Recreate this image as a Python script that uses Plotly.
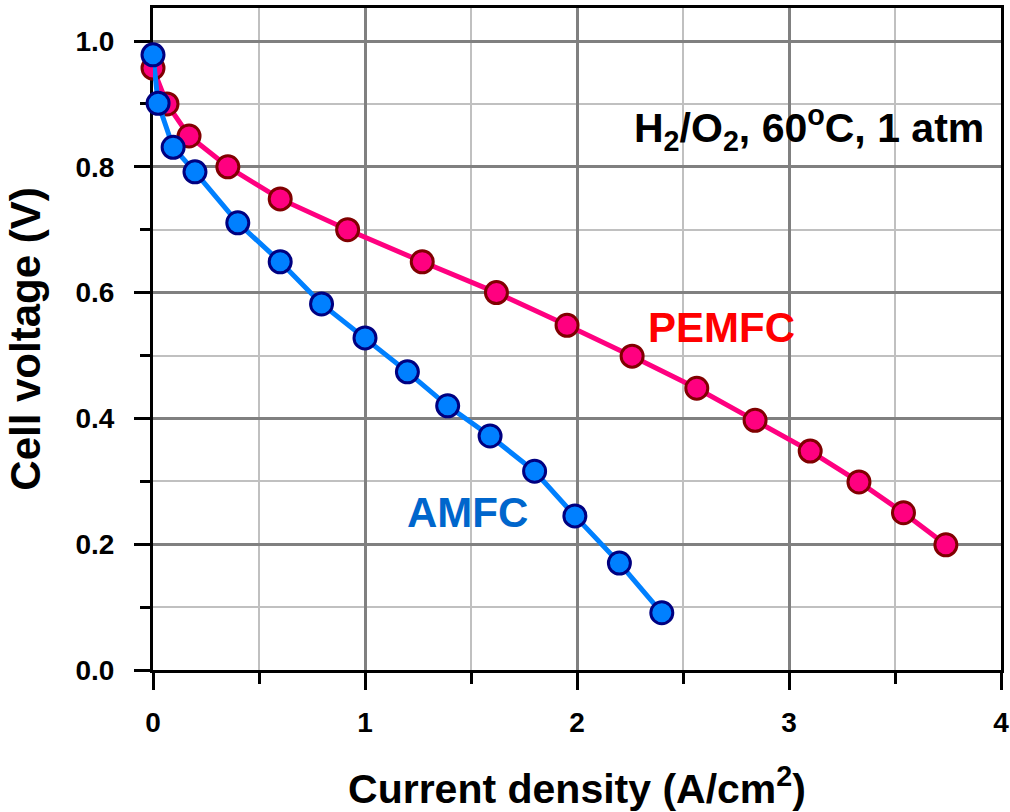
import plotly.graph_objects as go

amfc_x = [0.0, 0.024, 0.095, 0.198, 0.40, 0.60, 0.795, 1.0, 1.2, 1.39, 1.59, 1.8, 1.99, 2.2, 2.4]
amfc_y = [0.978, 0.901, 0.831, 0.792, 0.711, 0.649, 0.582, 0.528, 0.474, 0.42, 0.372, 0.316, 0.245, 0.17, 0.091]

pem_x = [0.0, 0.066, 0.17, 0.353, 0.60, 0.918, 1.27, 1.62, 1.953, 2.26, 2.565, 2.84, 3.10, 3.33, 3.54, 3.74]
pem_y = [0.957, 0.90, 0.849, 0.80, 0.749, 0.70, 0.649, 0.60, 0.548, 0.499, 0.448, 0.397, 0.348, 0.299, 0.25, 0.199]

FONT = "Liberation Sans, Arial, sans-serif"

fig = go.Figure()
fig.add_trace(go.Scatter(
    x=pem_x, y=pem_y, mode="lines+markers", name="PEMFC",
    line=dict(color="#ff0080", width=5),
    marker=dict(size=22, color="#ff0080", line=dict(color="#800000", width=3)),
    cliponaxis=False, showlegend=False))
fig.add_trace(go.Scatter(
    x=amfc_x, y=amfc_y, mode="lines+markers", name="AMFC",
    line=dict(color="#0080ff", width=5),
    marker=dict(size=22, color="#0080ff", line=dict(color="#000080", width=3)),
    cliponaxis=False, showlegend=False))

axis_common = dict(
    showline=True, linecolor="black", linewidth=3, mirror=True,
    ticks="outside", tickcolor="black", tickwidth=3,
    showgrid=True, gridcolor="#808080", gridwidth=3,
    zeroline=False, layer="below traces", automargin=False,
    ticklabeloverflow="allow",
    tickfont=dict(family=FONT, size=28, color="black", weight="bold"),
)

fig.update_xaxes(
    range=[0, 4], tickvals=[0, 1, 2, 3, 4], ticktext=["0", "1", "2", "3", "4"], ticklen=17,
    ticklabelstandoff=8,
    minor=dict(dtick=0.5, tick0=0, ticks="outside", ticklen=11, tickwidth=3, tickcolor="black",
               showgrid=True, gridcolor="#c0c0c0", gridwidth=2),
    title=dict(text="Current density (A/cm<sup>2</sup>)", standoff=40,
               font=dict(family=FONT, size=41, color="black", weight="bold")),
    **axis_common)
fig.update_yaxes(
    range=[0, 1.0525], tickvals=[0, 0.2, 0.4, 0.6, 0.8, 1.0],
    ticktext=["0.0", "0.2", "0.4", "0.6", "0.8", "1.0"], ticklen=16,
    ticklabelstandoff=14,
    minor=dict(dtick=0.1, tick0=0, ticks="outside", ticklen=10, tickwidth=3, tickcolor="black",
               showgrid=True, gridcolor="#c0c0c0", gridwidth=2),
    title=dict(text="Cell voltage (V)", standoff=22,
               font=dict(family=FONT, size=42, color="black", weight="bold")),
    **axis_common)

fig.add_annotation(x=2.325, y=0.545, xref="x", yref="y", text="PEMFC", showarrow=False,
                   xanchor="left", yanchor="middle",
                   font=dict(family=FONT, size=42, color="#ff0000", weight="bold"))
fig.add_annotation(x=1.19, y=0.25, xref="x", yref="y", text="AMFC", showarrow=False,
                   xanchor="left", yanchor="middle",
                   font=dict(family=FONT, size=42, color="#0066cc", weight="bold"))
fig.add_annotation(x=3.93, y=0.862, xref="x", yref="y",
                   text="H<sub>2</sub>/O<sub>2</sub>, 60<sup>o</sup>C, 1 atm", showarrow=False,
                   xanchor="right", yanchor="middle",
                   font=dict(family=FONT, size=41, color="black", weight="bold"))

fig.update_layout(
    width=1010, height=812,
    margin=dict(l=153, r=9, t=8, b=142),
    plot_bgcolor="white", paper_bgcolor="white",
)

fig.write_html("out.html")
